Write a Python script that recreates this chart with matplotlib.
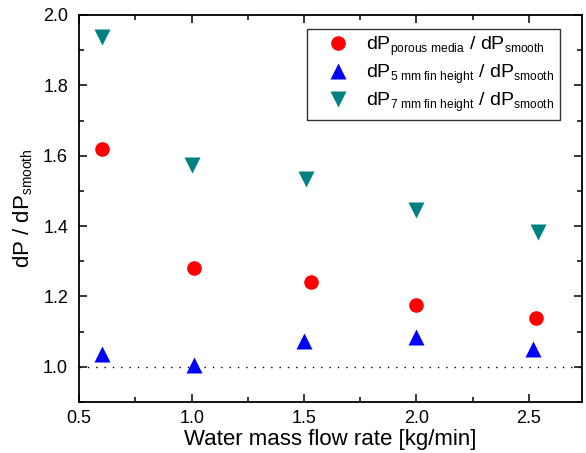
import matplotlib
matplotlib.use("Agg")
import matplotlib.pyplot as plt
from matplotlib.ticker import MultipleLocator
import matplotlib._mathtext as _mt

plt.rcParams["font.family"] = ["Liberation Sans", "DejaVu Sans"]
plt.rcParams["mathtext.fontset"] = "custom"
plt.rcParams["mathtext.rm"] = "Liberation Sans"
plt.rcParams["mathtext.it"] = "Liberation Sans:italic"
# slightly smaller subscripts than the mathtext default
if hasattr(_mt, "SHRINK_FACTOR"):
    _mt.SHRINK_FACTOR = 0.62

# Pressure drop ratio vs. water mass flow rate
x_porous = [0.60, 1.01, 1.53, 2.00, 2.53]
y_porous = [1.62, 1.28, 1.24, 1.176, 1.14]

x_fin5 = [0.60, 1.01, 1.50, 2.00, 2.52]
y_fin5 = [1.036, 1.004, 1.074, 1.086, 1.052]

x_fin7 = [0.60, 1.00, 1.51, 2.00, 2.54]
y_fin7 = [1.938, 1.575, 1.533, 1.445, 1.384]

labels = [
    r"dP$_{\mathrm{porous\ media}}$ / dP$_{\mathrm{smooth}}$",
    r"dP$_{\mathrm{5\ mm\ fin\ height}}$ / dP$_{\mathrm{smooth}}$",
    r"dP$_{\mathrm{7\ mm\ fin\ height}}$ / dP$_{\mathrm{smooth}}$",
]

fig = plt.figure(figsize=(5.86, 4.53), dpi=100)
ax = fig.add_axes([0.1352, 0.1126, 0.8575, 0.8543])

xmin, xmax = 0.5, 2.735
ax.plot([xmin, xmax], [1.0, 1.0], color="black", lw=1.0,
        linestyle=(0, (1, 5)), zorder=1)

ax.plot(x_porous, y_porous, "o", color="#ff0000", ms=10.5, mec="none",
        label=labels[0], zorder=3)
ax.plot(x_fin5, y_fin5, "^", color="#0000ff", ms=11.5, mec="none",
        label=labels[1], zorder=3)
ax.plot(x_fin7, y_fin7, "v", color="#008080", ms=11.5, mec="none",
        label=labels[2], zorder=3)

ax.set_xlim(xmin, xmax)
ax.set_ylim(0.9, 2.0)

ax.xaxis.set_major_locator(MultipleLocator(0.5))
ax.xaxis.set_minor_locator(MultipleLocator(0.25))
ax.yaxis.set_major_locator(MultipleLocator(0.2))
ax.yaxis.set_minor_locator(MultipleLocator(0.1))
ax.set_yticks([1.0, 1.2, 1.4, 1.6, 1.8, 2.0])

ax.tick_params(which="both", direction="in", top=True, right=True,
               width=1.1, labelsize=13, colors="black")
ax.tick_params(which="major", length=6)
ax.tick_params(which="minor", length=3.5)
ax.tick_params(axis="x", pad=6)
ax.tick_params(axis="y", pad=8)

for s in ax.spines.values():
    s.set_linewidth(1.3)

ax.set_xlabel("Water mass flow rate [kg/min]", fontsize=16, labelpad=1)
ax.set_ylabel(r"dP / dP$_{\mathrm{smooth}}$", fontsize=16, labelpad=6)

leg = ax.legend(loc="upper right", bbox_to_anchor=(0.957, 0.964),
                fontsize=14, frameon=True, fancybox=False,
                edgecolor="black", borderpad=0.3, labelspacing=0.22,
                handletextpad=0.15, handlelength=2.6, borderaxespad=0.0)
leg.get_frame().set_linewidth(1.0)

fig.savefig("out.png", dpi=100)
